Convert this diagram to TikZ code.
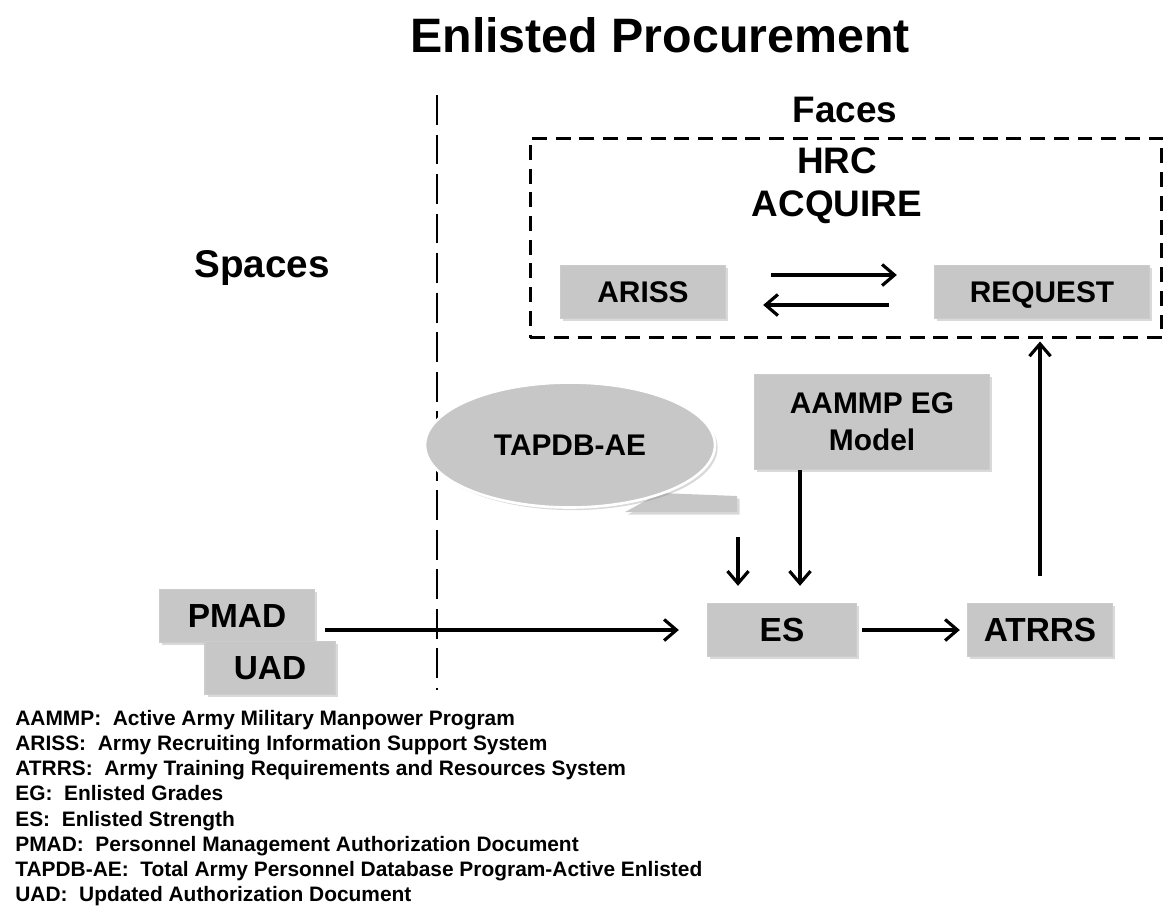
\documentclass[tikz,border=0pt]{standalone}
\usepackage{fontspec}
\setmainfont{Liberation Sans}
\usetikzlibrary{positioning, arrows.meta, shapes.geometric, shadows, calc}

\begin{document}
\begin{tikzpicture}[x=0.02cm, y=-0.02cm, >={Straight Barb[length=7pt,width=12pt]},
  sysbox/.style={draw=gray!40, fill=black!22, line width=0.8pt, minimum height=1.06cm, inner sep=2pt,
    text height=13.6pt, text depth=0.5pt,
    drop shadow={shadow xshift=1.5pt, shadow yshift=-1.5pt, opacity=0.3}, font=\bfseries\fontsize{19}{22}\selectfont},
  smallbox/.style={sysbox, text height=12.2pt, font=\bfseries\fontsize{17}{20}\selectfont},
  flow/.style={->, line width=1.8pt},
  heading/.style={font=\bfseries\fontsize{21}{25}\selectfont}]
  \useasboundingbox (0,0) rectangle (1165,907);

  % titles
  \node[font=\bfseries\fontsize{27.5}{32}\selectfont] (title) at (660,35) {Enlisted Procurement};
  \node[heading, font=\bfseries\fontsize{22}{26}\selectfont] (spaces) at (262,268) {Spaces};
  \node[heading] (faces) at (845,110) {Faces};
  \draw[line width=1.6pt, dash pattern=on 17pt off 5.5pt] (437,95) -- (437,690);

  % HRC acquire box
  \node[draw, line width=1.7pt, dash pattern=on 8.5pt off 5pt, minimum width=12.64cm, minimum height=4cm] (acq) at (846,238) {};
  \node[heading] (hrc) at (837,161) {HRC};
  \node[heading] (acquire) at (837,207) {ACQUIRE};
  \node[smallbox, minimum width=3.3cm] (ariss) at (643,292) {ARISS};
  \node[smallbox, minimum width=4.3cm] (request) at (1042,292) {REQUEST};
  \draw[flow, shorten <=0.9cm, shorten >=0.74cm] ([yshift=0.34cm]ariss.east) -- ([yshift=0.34cm]request.west);
  \draw[flow, shorten <=0.9cm, shorten >=0.74cm] ([yshift=-0.26cm]request.west) -- ([yshift=-0.26cm]ariss.east);

  % sources
  \fill[black!22, drop shadow={shadow xshift=1.5pt, shadow yshift=-1.5pt, opacity=0.3}]
    (660,493) -- (737,496) -- (737,512) -- (625,512) -- cycle;
  \node[ellipse, draw=white, line width=1.5pt, fill=black!22, minimum width=5.8cm, minimum height=2.5cm,
    drop shadow={shadow xshift=1.5pt, shadow yshift=-1.5pt, opacity=0.3},
    font=\bfseries\fontsize{17}{20}\selectfont] (tapdb) at (570,445) {TAPDB-AE};
  \coordinate (tail) at (737,512);
  \node[sysbox, minimum width=4.7cm, minimum height=1.9cm, align=center, text height=, text depth=,
    font=\bfseries\fontsize{17}{21}\selectfont] (aammp) at (872,422) {AAMMP EG\\Model};
  \node[sysbox, minimum width=3.1cm] (pmad) at (237,616) {PMAD};
  \node[sysbox, minimum width=2.6cm] (uad) at (270,668) {UAD};
  \node[sysbox, minimum width=2.98cm] (es) at (782,630) {ES};
  \node[sysbox, minimum width=2.9cm] (atrrs) at (1040,630) {ATRRS};

  \draw[flow, shorten <=0.2cm, shorten >=0.56cm] (pmad.east |- es.west) -- (es.west);
  \draw[flow, shorten <=0.5cm, shorten >=0.34cm] ([xshift=-0.88cm]es.north |- tail) -- ([xshift=-0.88cm]es.north);
  \draw[flow, shorten >=0.34cm] ([xshift=0.36cm]es.north |- aammp.south) -- ([xshift=0.36cm]es.north);
  \draw[flow, shorten <=0.1cm, shorten >=0.14cm] (es) -- (atrrs);
  \draw[flow, shorten <=0.54cm, shorten >=0.04cm] (atrrs.north) -- (atrrs.north |- acq.south);

  % legend
  \node[anchor=north west, align=left, inner sep=0pt, font=\bfseries\fontsize{11.9}{14.3}\selectfont] (legend) at (15,710) {%
    AAMMP:\ \ Active Army Military Manpower Program\\
    ARISS:\ \ Army Recruiting Information Support System\\
    ATRRS:\ \ Army Training Requirements and Resources System\\
    EG:\ \ Enlisted Grades\\
    ES:\ \ Enlisted Strength\\
    PMAD:\ \ Personnel Management Authorization Document\\
    TAPDB-AE:\ \ Total Army Personnel Database Program-Active Enlisted\\
    UAD:\ \ Updated Authorization Document};
\end{tikzpicture}
\end{document}
